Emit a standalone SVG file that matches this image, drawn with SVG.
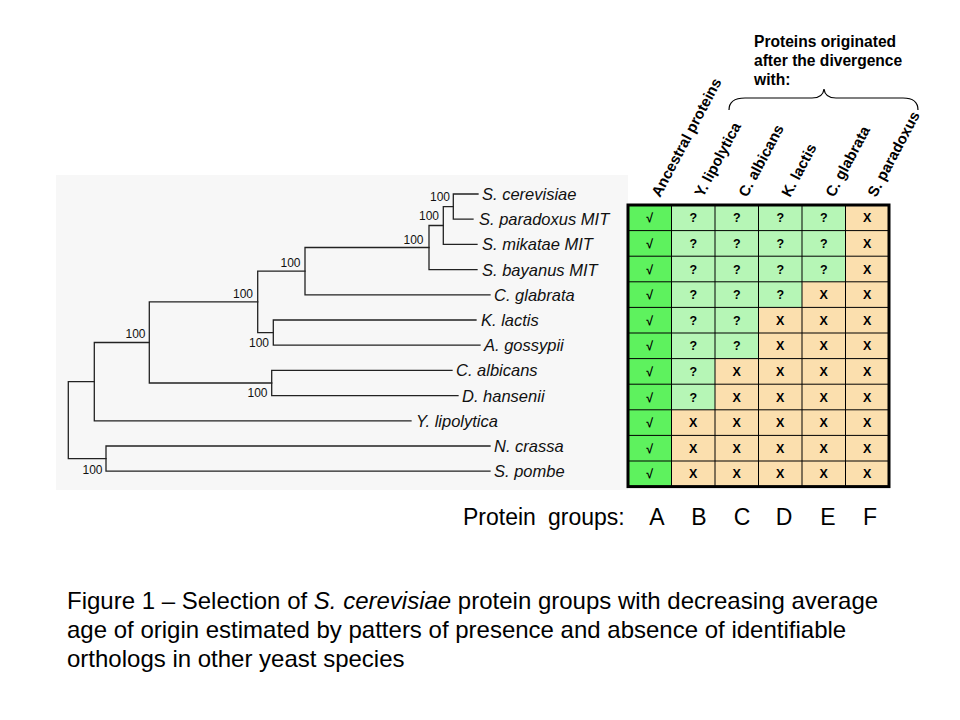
<svg xmlns="http://www.w3.org/2000/svg" width="960" height="720" viewBox="0 0 960 720">
<style>
.br{stroke:#222;stroke-width:1.3;fill:none;stroke-linecap:square}
.tx{font-family:"Liberation Sans",Arial,sans-serif;font-style:italic;font-size:16.5px;fill:#111}
.bs{font-family:"Liberation Sans",Arial,sans-serif;font-size:12px;fill:#111;text-anchor:end}
.hd{font-family:"Liberation Sans",Arial,sans-serif;font-weight:bold;font-size:15.6px;fill:#000}
.ch{font-family:"Liberation Sans",Arial,sans-serif;font-weight:bold;font-size:15px;fill:#000}
.cl{font-family:"Liberation Sans",Arial,sans-serif;font-weight:bold;font-size:12.5px;fill:#000;text-anchor:middle}
.gl{stroke:#000;stroke-width:1}
.grp{font-family:"Liberation Sans",Arial,sans-serif;font-size:23px;fill:#000}
.cap{font-family:"Liberation Sans",Arial,sans-serif;font-size:24px;fill:#000}
</style>
<rect x="0" y="0" width="960" height="720" fill="#fff"/>
<rect x="56" y="175" width="572" height="315" fill="#f7f7f7"/>

<g id="connectors">
<path class="br" d="M68.3,381.6 V458.6 M68.3,381.6 H94.3 M68.3,458.6 H106"/>
<path class="br" d="M106,446 V471.2 M106,446 H490 M106,471.2 H490"/>
<path class="br" d="M94.3,342.5 V420.8 M94.3,420.8 H411 M94.3,342.5 H149.3"/>
<path class="br" d="M149.3,301.9 V383 M149.3,301.9 H257.7 M149.3,383 H271.7"/>
<path class="br" d="M271.7,370.4 V395.6 M271.7,370.4 H452 M271.7,395.6 H458"/>
<path class="br" d="M257.7,271.2 V332.6 M257.7,271.2 H305 M257.7,332.6 H273.3"/>
<path class="br" d="M273.3,320 V345.2 M273.3,320 H476 M273.3,345.2 H480"/>
<path class="br" d="M305,247.5 V294.8 M305,294.8 H490 M305,247.5 H429"/>
<path class="br" d="M429,225.5 V269.6 M429,269.6 H477 M429,225.5 H443.3"/>
<path class="br" d="M443.3,206.6 V244.4 M443.3,244.4 H477 M443.3,206.6 H453.3"/>
<path class="br" d="M453.3,194 V219.2 M453.3,194 H478 M453.3,219.2 H473"/>
</g>

<g id="bootstrap">
<text class="bs" x="450" y="201">100</text>
<text class="bs" x="439" y="220">100</text>
<text class="bs" x="423.5" y="243.5">100</text>
<text class="bs" x="300.5" y="267">100</text>
<text class="bs" x="253" y="297.5">100</text>
<text class="bs" x="269" y="347">100</text>
<text class="bs" x="145.5" y="337.5">100</text>
<text class="bs" x="267.5" y="397">100</text>
<text class="bs" x="102.5" y="473.5">100</text>
</g>

<g id="taxon-scer"><text class="tx" x="482" y="200">S. cerevisiae</text></g>
<g id="taxon-spar"><text class="tx" x="479" y="225.2">S. paradoxus MIT</text></g>
<g id="taxon-smik"><text class="tx" x="482" y="250.4">S. mikatae MIT</text></g>
<g id="taxon-sbay"><text class="tx" x="482" y="275.6">S. bayanus MIT</text></g>
<g id="taxon-cgla"><text class="tx" x="494" y="300.8">C. glabrata</text></g>
<g id="taxon-klac"><text class="tx" x="481" y="326">K. lactis</text></g>
<g id="taxon-agos"><text class="tx" x="484" y="351.2">A. gossypii</text></g>
<g id="taxon-calb"><text class="tx" x="456" y="376.4">C. albicans</text></g>
<g id="taxon-dhan"><text class="tx" x="462" y="401.6">D. hansenii</text></g>
<g id="taxon-ylip"><text class="tx" x="416" y="426.8">Y. lipolytica</text></g>
<g id="taxon-ncra"><text class="tx" x="494" y="452">N. crassa</text></g>
<g id="taxon-spom"><text class="tx" x="494" y="477.2">S. pombe</text></g>

<g id="grid">
<rect x="671.5" y="205" width="217.5" height="281.6" fill="#fbdfae"/>
<polygon points="671.5,205 845.5,205 845.5,281.8 802,281.8 802,307.4 758.5,307.4 758.5,358.6 715,358.6 715,409.8 671.5,409.8" fill="#b6f6b6"/>
<rect x="628" y="205" width="43.5" height="281.6" fill="#5ef25e"/>
<path class="gl" d="M671.5,205V486.6 M715,205V486.6 M758.5,205V486.6 M802,205V486.6 M845.5,205V486.6 M628,230.6H889 M628,256.2H889 M628,281.8H889 M628,307.4H889 M628,333H889 M628,358.6H889 M628,384.2H889 M628,409.8H889 M628,435.4H889 M628,461H889"/>
<rect x="628" y="205" width="261" height="281.6" fill="none" stroke="#000" stroke-width="3"/>
<g class="cl">
<text x="649.75" y="222.3">√</text><text x="693.25" y="222.3">?</text><text x="736.75" y="222.3">?</text><text x="780.25" y="222.3">?</text><text x="823.75" y="222.3">?</text><text x="867.25" y="222.3">X</text>
<text x="649.75" y="247.9">√</text><text x="693.25" y="247.9">?</text><text x="736.75" y="247.9">?</text><text x="780.25" y="247.9">?</text><text x="823.75" y="247.9">?</text><text x="867.25" y="247.9">X</text>
<text x="649.75" y="273.5">√</text><text x="693.25" y="273.5">?</text><text x="736.75" y="273.5">?</text><text x="780.25" y="273.5">?</text><text x="823.75" y="273.5">?</text><text x="867.25" y="273.5">X</text>
<text x="649.75" y="299.1">√</text><text x="693.25" y="299.1">?</text><text x="736.75" y="299.1">?</text><text x="780.25" y="299.1">?</text><text x="823.75" y="299.1">X</text><text x="867.25" y="299.1">X</text>
<text x="649.75" y="324.7">√</text><text x="693.25" y="324.7">?</text><text x="736.75" y="324.7">?</text><text x="780.25" y="324.7">X</text><text x="823.75" y="324.7">X</text><text x="867.25" y="324.7">X</text>
<text x="649.75" y="350.3">√</text><text x="693.25" y="350.3">?</text><text x="736.75" y="350.3">?</text><text x="780.25" y="350.3">X</text><text x="823.75" y="350.3">X</text><text x="867.25" y="350.3">X</text>
<text x="649.75" y="375.9">√</text><text x="693.25" y="375.9">?</text><text x="736.75" y="375.9">X</text><text x="780.25" y="375.9">X</text><text x="823.75" y="375.9">X</text><text x="867.25" y="375.9">X</text>
<text x="649.75" y="401.5">√</text><text x="693.25" y="401.5">?</text><text x="736.75" y="401.5">X</text><text x="780.25" y="401.5">X</text><text x="823.75" y="401.5">X</text><text x="867.25" y="401.5">X</text>
<text x="649.75" y="427.1">√</text><text x="693.25" y="427.1">X</text><text x="736.75" y="427.1">X</text><text x="780.25" y="427.1">X</text><text x="823.75" y="427.1">X</text><text x="867.25" y="427.1">X</text>
<text x="649.75" y="452.7">√</text><text x="693.25" y="452.7">X</text><text x="736.75" y="452.7">X</text><text x="780.25" y="452.7">X</text><text x="823.75" y="452.7">X</text><text x="867.25" y="452.7">X</text>
<text x="649.75" y="478.3">√</text><text x="693.25" y="478.3">X</text><text x="736.75" y="478.3">X</text><text x="780.25" y="478.3">X</text><text x="823.75" y="478.3">X</text><text x="867.25" y="478.3">X</text>
</g>
</g>

<g id="headers">
<text class="ch" transform="translate(660,198) rotate(-62)">Ancestral proteins</text>
<text class="ch" transform="translate(703,198) rotate(-62)">Y. lipolytica</text>
<text class="ch" transform="translate(747,198) rotate(-62)">C. albicans</text>
<text class="ch" transform="translate(790,198) rotate(-62)">K. lactis</text>
<text class="ch" transform="translate(834,198) rotate(-62)">C. glabrata</text>
<text class="ch" transform="translate(876,198) rotate(-62)">S. paradoxus</text>
</g>

<g id="brace-label">
<text class="hd" x="754" y="47">Proteins originated</text>
<text class="hd" x="754" y="66">after the divergence</text>
<text class="hd" x="754" y="85">with:</text>
<path d="M729,110 Q729,98 745,98 L812,98 Q823,98 824,89 Q825,98 836,98 L903,98 Q918,98 918,110" fill="none" stroke="#000" stroke-width="1.2"/>
</g>

<g id="groups">
<text class="grp" x="463" y="525">Protein<tspan x="548">groups:</tspan></text>
<text class="grp" x="657" y="525" text-anchor="middle">A</text>
<text class="grp" x="699" y="525" text-anchor="middle">B</text>
<text class="grp" x="742" y="525" text-anchor="middle">C</text>
<text class="grp" x="784" y="525" text-anchor="middle">D</text>
<text class="grp" x="828" y="525" text-anchor="middle">E</text>
<text class="grp" x="870" y="525" text-anchor="middle">F</text>
</g>

<g id="caption">
<text class="cap" x="67" y="609">Figure 1 – Selection of <tspan font-style="italic">S. cerevisiae</tspan> protein groups with decreasing average</text>
<text class="cap" x="67" y="638">age of origin estimated by patters of presence and absence of identifiable</text>
<text class="cap" x="67" y="667">orthologs in other yeast species</text>
</g>
</svg>
